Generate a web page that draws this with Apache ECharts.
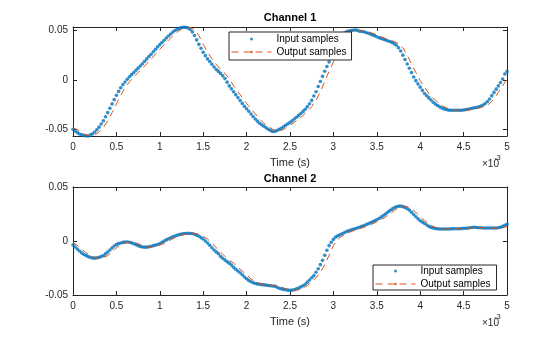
<!DOCTYPE html>
<html><head><meta charset="utf-8">
<script src="https://cdn.jsdelivr.net/npm/echarts@6/dist/echarts.min.js"></script>
<style>html,body{margin:0;padding:0;background:#fff}#c{width:560px;height:337px}</style>
</head><body><div id="c"></div>
<script>
// ---------- data (time in ms, shown with x10^-3 s multiplier) ----------
const IN_STEP = 0.025;   // ms between input samples
const OUT_STEP = 0.05;   // ms between output points
const xTickValues = [0, 0.5, 1, 1.5, 2, 2.5, 3, 3.5, 4, 4.5, 5];
const yTickValues = [-0.05, 0, 0.05];
const titles = ['Channel 1', 'Channel 2'];
const seriesNames = ['Input samples', 'Output samples'];

const ch1Input = [
-0.0503,-0.0520,-0.0537,-0.0550,-0.0559,-0.0567,-0.0569,-0.0571,-0.0560,-0.0549,
-0.0530,-0.0507,-0.0481,-0.0449,-0.0417,-0.0376,-0.0334,-0.0289,-0.0245,-0.0202,
-0.0157,-0.0118,-0.0082,-0.0049,-0.0022,0.0005,0.0030,0.0052,0.0074,0.0096,
0.0118,0.0140,0.0163,0.0187,0.0212,0.0236,0.0260,0.0284,0.0309,0.0334,
0.0357,0.0379,0.0402,0.0424,0.0445,0.0465,0.0484,0.0500,0.0514,0.0524,
0.0530,0.0534,0.0532,0.0527,0.0510,0.0486,0.0450,0.0405,0.0360,0.0320,
0.0280,0.0245,0.0212,0.0185,0.0157,0.0130,0.0105,0.0085,0.0065,0.0040,
0.0013,-0.0024,-0.0062,-0.0092,-0.0122,-0.0151,-0.0180,-0.0210,-0.0240,-0.0270,
-0.0295,-0.0320,-0.0347,-0.0373,-0.0398,-0.0420,-0.0442,-0.0458,-0.0472,-0.0488,
-0.0502,-0.0515,-0.0526,-0.0524,-0.0516,-0.0504,-0.0492,-0.0477,-0.0462,-0.0448,
-0.0433,-0.0417,-0.0399,-0.0381,-0.0362,-0.0343,-0.0321,-0.0299,-0.0273,-0.0243,
-0.0209,-0.0165,-0.0121,-0.0068,-0.0017,0.0035,0.0086,0.0135,0.0180,0.0244,
0.0303,0.0347,0.0391,0.0431,0.0459,0.0475,0.0487,0.0494,0.0500,0.0503,
0.0506,0.0502,0.0493,0.0490,0.0487,0.0480,0.0473,0.0465,0.0456,0.0448,
0.0437,0.0427,0.0419,0.0411,0.0404,0.0397,0.0388,0.0378,0.0367,0.0351,
0.0326,0.0293,0.0250,0.0205,0.0160,0.0117,0.0073,0.0028,-0.0009,-0.0042,
-0.0075,-0.0108,-0.0140,-0.0162,-0.0184,-0.0206,-0.0228,-0.0247,-0.0262,-0.0275,
-0.0286,-0.0296,-0.0302,-0.0308,-0.0310,-0.0310,-0.0310,-0.0310,-0.0310,-0.0310,
-0.0307,-0.0303,-0.0299,-0.0294,-0.0289,-0.0285,-0.0281,-0.0275,-0.0267,-0.0256,
-0.0241,-0.0220,-0.0195,-0.0161,-0.0128,-0.0095,-0.0062,-0.0028,0.0008,0.0058,
0.0085];

const ch1Output = [
-0.0490,-0.0505,-0.0537,-0.0559,-0.0569,-0.0560,-0.0530,-0.0481,-0.0417,-0.0334,
-0.0245,-0.0157,-0.0082,-0.0022,0.0030,0.0074,0.0118,0.0163,0.0212,0.0260,
0.0309,0.0357,0.0402,0.0445,0.0484,0.0514,0.0530,0.0532,0.0510,0.0450,
0.0360,0.0280,0.0212,0.0157,0.0105,0.0065,0.0013,-0.0062,-0.0122,-0.0180,
-0.0240,-0.0295,-0.0347,-0.0398,-0.0442,-0.0472,-0.0502,-0.0526,-0.0516,-0.0492,
-0.0462,-0.0433,-0.0399,-0.0362,-0.0321,-0.0273,-0.0209,-0.0121,-0.0017,0.0086,
0.0180,0.0303,0.0391,0.0459,0.0487,0.0500,0.0506,0.0493,0.0487,0.0473,
0.0456,0.0437,0.0419,0.0404,0.0388,0.0367,0.0326,0.0250,0.0160,0.0073,
-0.0009,-0.0075,-0.0140,-0.0184,-0.0228,-0.0262,-0.0286,-0.0302,-0.0310,-0.0310,
-0.0310,-0.0307,-0.0299,-0.0289,-0.0281,-0.0267,-0.0241,-0.0195,-0.0128,-0.0062,
0.0008];

const ch2Input = [
-0.0037,-0.0056,-0.0075,-0.0093,-0.0110,-0.0125,-0.0135,-0.0145,-0.0152,-0.0158,
-0.0159,-0.0156,-0.0152,-0.0144,-0.0135,-0.0119,-0.0103,-0.0084,-0.0064,-0.0046,
-0.0034,-0.0024,-0.0018,-0.0013,-0.0010,-0.0009,-0.0011,-0.0017,-0.0025,-0.0034,
-0.0043,-0.0050,-0.0055,-0.0057,-0.0057,-0.0054,-0.0048,-0.0043,-0.0038,-0.0032,
-0.0023,-0.0012,-0.0001,0.0010,0.0021,0.0030,0.0039,0.0046,0.0053,0.0059,
0.0064,0.0068,0.0070,0.0071,0.0070,0.0069,0.0063,0.0054,0.0044,0.0031,
0.0018,0.0000,-0.0018,-0.0039,-0.0062,-0.0084,-0.0101,-0.0117,-0.0142,-0.0160,
-0.0177,-0.0191,-0.0205,-0.0223,-0.0243,-0.0262,-0.0278,-0.0294,-0.0313,-0.0334,
-0.0350,-0.0365,-0.0377,-0.0386,-0.0393,-0.0397,-0.0401,-0.0404,-0.0406,-0.0409,
-0.0412,-0.0415,-0.0416,-0.0418,-0.0428,-0.0437,-0.0443,-0.0448,-0.0452,-0.0455,
-0.0457,-0.0455,-0.0451,-0.0443,-0.0435,-0.0425,-0.0414,-0.0401,-0.0381,-0.0361,
-0.0340,-0.0321,-0.0290,-0.0257,-0.0219,-0.0179,-0.0132,-0.0085,-0.0043,-0.0011,
0.0015,0.0036,0.0047,0.0057,0.0067,0.0077,0.0087,0.0094,0.0101,0.0108,
0.0114,0.0121,0.0128,0.0135,0.0141,0.0150,0.0159,0.0168,0.0177,0.0187,
0.0197,0.0208,0.0221,0.0235,0.0250,0.0266,0.0281,0.0295,0.0308,0.0316,
0.0322,0.0323,0.0318,0.0311,0.0299,0.0286,0.0266,0.0246,0.0225,0.0205,
0.0188,0.0175,0.0162,0.0148,0.0135,0.0126,0.0120,0.0115,0.0113,0.0111,
0.0111,0.0111,0.0111,0.0111,0.0112,0.0113,0.0114,0.0114,0.0114,0.0115,
0.0117,0.0118,0.0119,0.0122,0.0125,0.0127,0.0125,0.0123,0.0122,0.0121,
0.0120,0.0120,0.0120,0.0120,0.0120,0.0121,0.0122,0.0127,0.0135,0.0145,
0.0154];

const ch2Output = [
-0.0015,-0.0040,-0.0075,-0.0110,-0.0135,-0.0152,-0.0159,-0.0152,-0.0135,-0.0103,
-0.0064,-0.0034,-0.0018,-0.0010,-0.0011,-0.0025,-0.0043,-0.0055,-0.0057,-0.0048,
-0.0038,-0.0023,-0.0001,0.0021,0.0039,0.0053,0.0064,0.0070,0.0070,0.0063,
0.0044,0.0018,-0.0018,-0.0062,-0.0101,-0.0142,-0.0177,-0.0205,-0.0243,-0.0278,
-0.0313,-0.0350,-0.0377,-0.0393,-0.0401,-0.0406,-0.0412,-0.0416,-0.0428,-0.0443,
-0.0452,-0.0457,-0.0451,-0.0435,-0.0414,-0.0381,-0.0340,-0.0290,-0.0219,-0.0132,
-0.0043,0.0015,0.0047,0.0067,0.0087,0.0101,0.0114,0.0128,0.0141,0.0159,
0.0177,0.0197,0.0221,0.0250,0.0281,0.0308,0.0322,0.0318,0.0299,0.0266,
0.0225,0.0188,0.0162,0.0135,0.0120,0.0113,0.0111,0.0111,0.0112,0.0114,
0.0114,0.0117,0.0119,0.0125,0.0125,0.0122,0.0120,0.0120,0.0120,0.0122,
0.0135];

// ---------- chart ----------
const FONT = '"Liberation Sans", Arial, Helvetica, sans-serif';
const AX = '#262626';
const BLUE = '#0072BD', ORANGE = '#D95319';
const yRanges = [[-0.0571, 0.0536], [-0.05, 0.05]];
const grids = [
  {left: 73, top: 27, width: 434, height: 109},
  {left: 73, top: 187, width: 434, height: 108}
];

function pairs(arr, step) { return arr.map((v, i) => [Math.round(i * step * 1000) / 1000, v]); }
function fmtX(v) { return String(Math.round(v * 10) / 10); }
function fmtY(v) { const r = Math.round(v * 100) / 100; return r === 0 ? '0' : String(r); }

const xAxes = [], yAxes = [];
grids.forEach((g, gi) => {
  const line = {show: true, onZero: false, lineStyle: {color: AX, width: 1}};
  const tick = {show: true, inside: true, length: 4, lineStyle: {color: AX, width: 1}, customValues: xTickValues};
  xAxes.push({
    type: 'value', gridIndex: gi, position: 'bottom', min: 0, max: 5, interval: 0.5,
    axisLine: line, axisTick: tick, splitLine: {show: false},
    axisLabel: {show: true, margin: 6, fontSize: 10, color: AX, fontFamily: FONT, formatter: fmtX, customValues: xTickValues},
    name: 'Time (s)', nameLocation: 'middle', nameGap: 21,
    nameTextStyle: {fontSize: 11, color: AX, fontFamily: FONT}
  });
  xAxes.push({
    type: 'value', gridIndex: gi, position: 'top', min: 0, max: 5, interval: 0.5,
    axisLine: line, axisTick: tick, splitLine: {show: false}, axisLabel: {show: false}
  });
  const ytick = {show: true, inside: true, length: 4, lineStyle: {color: AX, width: 1}, customValues: yTickValues};
  yAxes.push({
    type: 'value', gridIndex: gi, position: 'left', min: yRanges[gi][0], max: yRanges[gi][1],
    axisLine: line, axisTick: ytick, splitLine: {show: false},
    axisLabel: {show: true, margin: 5, fontSize: 10, color: AX, fontFamily: FONT, formatter: fmtY, customValues: yTickValues}
  });
  yAxes.push({
    type: 'value', gridIndex: gi, position: 'right', min: yRanges[gi][0], max: yRanges[gi][1],
    axisLine: line, axisTick: ytick, splitLine: {show: false}, axisLabel: {show: false}
  });
});

const inputs = [ch1Input, ch2Input], outputs = [ch1Output, ch2Output];
const series = [];
[0, 1].forEach(gi => {
  series.push({
    type: 'scatter', name: seriesNames[0], xAxisIndex: gi * 2, yAxisIndex: gi * 2,
    data: pairs(inputs[gi], IN_STEP), symbol: 'circle', symbolSize: 3.6,
    itemStyle: {color: BLUE}, z: 2, silent: true
  });
  series.push({
    type: 'line', name: seriesNames[1], xAxisIndex: gi * 2, yAxisIndex: gi * 2,
    data: pairs(outputs[gi], OUT_STEP), symbol: 'none', showSymbol: false,
    lineStyle: {color: ORANGE, width: 1, type: [7, 5]}, itemStyle: {color: ORANGE}, z: 3, silent: true
  });
});

const legendBase = {
  orient: 'vertical', data: seriesNames, itemWidth: 40, itemHeight: 3, itemGap: 1,
  borderColor: AX, borderWidth: 1, backgroundColor: '#fff', selectedMode: false,
  lineStyle: {width: 1, type: [7, 5]},
  textStyle: {fontSize: 10, color: '#000', fontFamily: FONT, lineHeight: 12}
};

const graphics = [];
[0, 1].forEach(gi => {
  const g = grids[gi];
  graphics.push({type: 'text', x: g.left + g.width / 2, y: gi === 0 ? 18 : 179,
    style: {text: titles[gi], align: 'center', verticalAlign: 'middle', fontSize: 11, fontWeight: 'bold', fill: '#000', fontFamily: FONT}});
  const by = g.top + g.height;
  graphics.push({type: 'text', x: 482, y: by + 28, style: {text: '\u00d710', align: 'left', verticalAlign: 'middle', fontSize: 10, fill: AX, fontFamily: FONT}});
  graphics.push({type: 'text', x: 494.5, y: by + 22, style: {text: '-3', align: 'left', verticalAlign: 'middle', fontSize: 7, fill: AX, fontFamily: FONT}});
});

const chart = echarts.init(document.getElementById('c'), null, {renderer: 'canvas'});
chart.setOption({
  animation: false,
  backgroundColor: '#fff',
  grid: grids.map(g => Object.assign({containLabel: false}, g)),
  xAxis: xAxes, yAxis: yAxes, series: series,
  legend: [
    Object.assign({}, legendBase, {left: 229, top: 32, padding: [1, 5, 2, 2]}),
    Object.assign({}, legendBase, {left: 373, top: 265, padding: [0, 6, 0, 2]})
  ],
  graphic: graphics
});
</script></body></html>
